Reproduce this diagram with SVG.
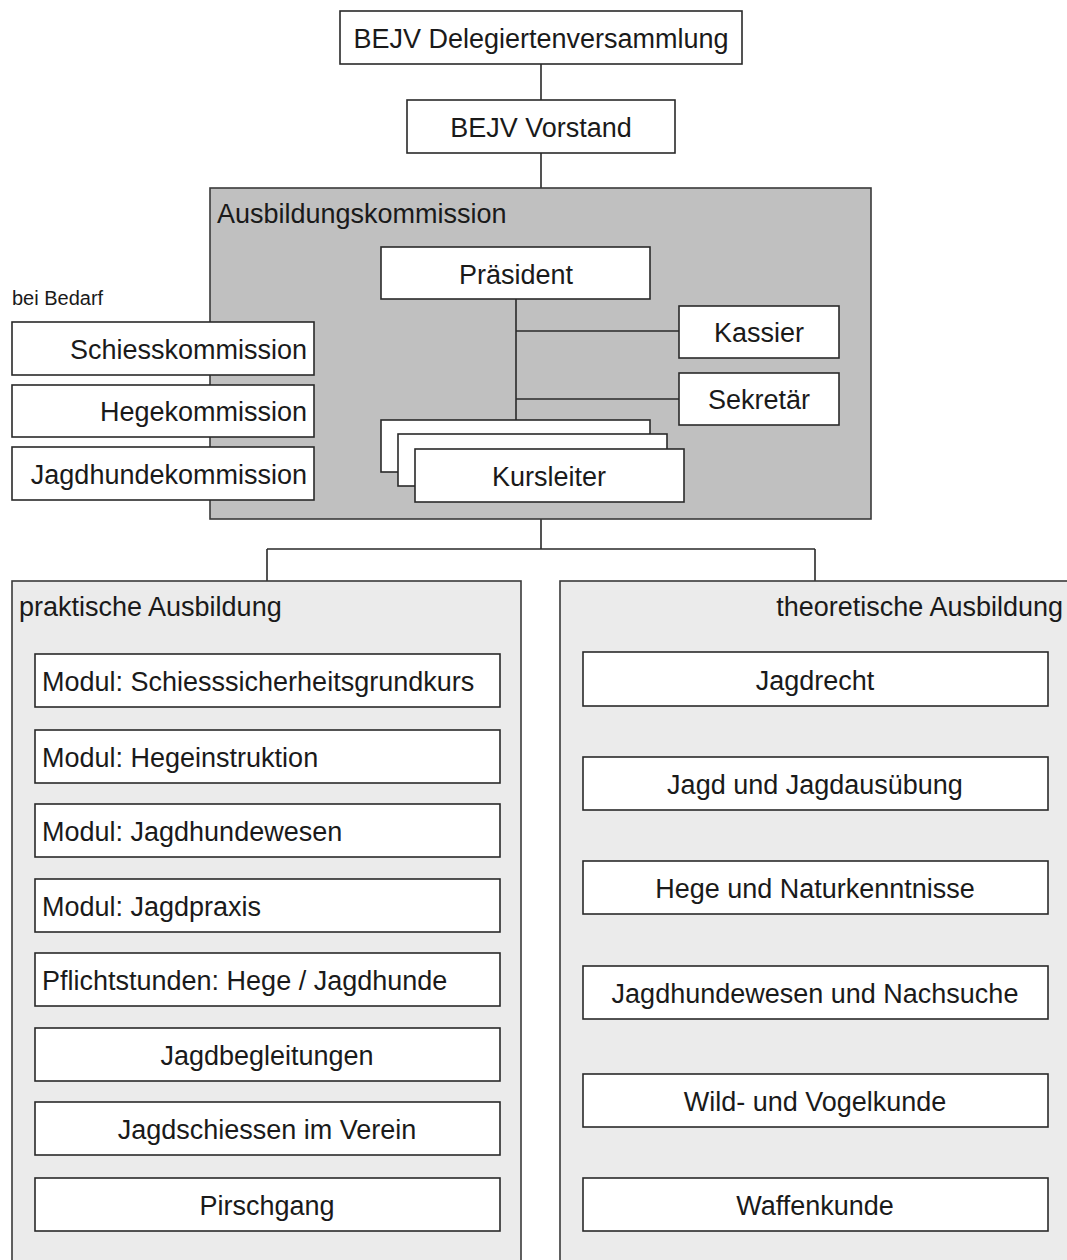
<svg xmlns="http://www.w3.org/2000/svg" width="1067" height="1260" viewBox="0 0 1067 1260">
<style>
text{font-family:"Liberation Sans",Arial,sans-serif;font-size:27px;fill:#1a1a1a}
.b{fill:#fff;stroke:#2a2a2a;stroke-width:1.6}
.c{text-anchor:middle}
.r{text-anchor:end}
.ln{stroke:#2a2a2a;stroke-width:1.6;fill:none}
.grp{fill:#c0c0c0;stroke:#3a3a3a;stroke-width:1.6}
.pan{fill:#ebebeb;stroke:#3a3a3a;stroke-width:1.6}
</style>
<rect width="1067" height="1260" fill="#fff"/>
<g id="connectors">
<path class="ln" d="M541 64V100M541 153V188M541 519V549M267 549H815M267 549V581M815 549V581"/>
</g>
<g id="delegierten"><rect class="b" x="340" y="11" width="402" height="53"/><text class="c" x="541" y="48">BEJV Delegiertenversammlung</text></g>
<g id="vorstand"><rect class="b" x="407" y="100" width="268" height="53"/><text class="c" x="541" y="137">BEJV Vorstand</text></g>
<g id="ausbildungskommission">
<rect class="grp" x="210" y="188" width="661" height="331"/>
<text x="217" y="223">Ausbildungskommission</text>
<path class="ln" d="M516 299V420M516 331H679M516 399H679"/>
<g id="praesident"><rect class="b" x="381" y="247" width="269" height="52"/><text class="c" x="516" y="284">Präsident</text></g>
<g id="kassier"><rect class="b" x="679" y="306" width="160" height="52"/><text class="c" x="759" y="342">Kassier</text></g>
<g id="sekretaer"><rect class="b" x="679" y="373" width="160" height="52"/><text class="c" x="759" y="409">Sekretär</text></g>
<g id="kursleiter">
<rect class="b" x="381" y="420" width="269" height="52"/>
<rect class="b" x="398" y="434" width="269" height="52"/>
<rect class="b" x="415" y="449" width="269" height="53"/>
<text class="c" x="549" y="486">Kursleiter</text>
</g>
</g>
<g id="bei-bedarf">
<text x="12" y="305" style="font-size:20px">bei Bedarf</text>
<g id="schiesskommission"><rect class="b" x="12" y="322" width="302" height="53"/><text class="r" x="307" y="359">Schiesskommission</text></g>
<g id="hegekommission"><rect class="b" x="12" y="385" width="302" height="52"/><text class="r" x="307" y="421">Hegekommission</text></g>
<g id="jagdhundekommission"><rect class="b" x="12" y="447" width="302" height="53"/><text class="r" x="307" y="484">Jagdhundekommission</text></g>
</g>
<g id="praktisch">
<rect class="pan" x="12" y="581" width="509" height="700"/>
<text x="19" y="616">praktische Ausbildung</text>
<g id="p1"><rect class="b" x="35" y="654" width="465" height="53"/><text x="42" y="691">Modul: Schiesssicherheitsgrundkurs</text></g>
<g id="p2"><rect class="b" x="35" y="730" width="465" height="53"/><text x="42" y="767">Modul: Hegeinstruktion</text></g>
<g id="p3"><rect class="b" x="35" y="804" width="465" height="53"/><text x="42" y="841">Modul: Jagdhundewesen</text></g>
<g id="p4"><rect class="b" x="35" y="879" width="465" height="53"/><text x="42" y="916">Modul: Jagdpraxis</text></g>
<g id="p5"><rect class="b" x="35" y="953" width="465" height="53"/><text x="42" y="990">Pflichtstunden: Hege / Jagdhunde</text></g>
<g id="p6"><rect class="b" x="35" y="1028" width="465" height="53"/><text class="c" x="267" y="1065">Jagdbegleitungen</text></g>
<g id="p7"><rect class="b" x="35" y="1102" width="465" height="53"/><text class="c" x="267" y="1139">Jagdschiessen im Verein</text></g>
<g id="p8"><rect class="b" x="35" y="1178" width="465" height="53"/><text class="c" x="267" y="1215">Pirschgang</text></g>
</g>
<g id="theoretisch">
<rect class="pan" x="560" y="581" width="520" height="700"/>
<text class="r" x="1063" y="616">theoretische Ausbildung</text>
<g id="t1"><rect class="b" x="583" y="652" width="465" height="54"/><text class="c" x="815" y="690">Jagdrecht</text></g>
<g id="t2"><rect class="b" x="583" y="757" width="465" height="53"/><text class="c" x="815" y="794">Jagd und Jagdausübung</text></g>
<g id="t3"><rect class="b" x="583" y="861" width="465" height="53"/><text class="c" x="815" y="898">Hege und Naturkenntnisse</text></g>
<g id="t4"><rect class="b" x="583" y="966" width="465" height="53"/><text class="c" x="815" y="1003">Jagdhundewesen und Nachsuche</text></g>
<g id="t5"><rect class="b" x="583" y="1074" width="465" height="53"/><text class="c" x="815" y="1111">Wild- und Vogelkunde</text></g>
<g id="t6"><rect class="b" x="583" y="1178" width="465" height="53"/><text class="c" x="815" y="1215">Waffenkunde</text></g>
</g>
</svg>
